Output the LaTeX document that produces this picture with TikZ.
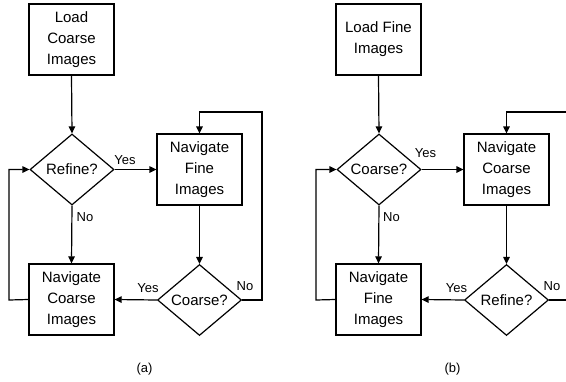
\documentclass[tikz,border=0pt]{standalone}
\usepackage{fontspec}
\setmainfont{Liberation Sans}
\usetikzlibrary{shapes.geometric,arrows.meta}
\begin{document}
\begin{tikzpicture}[x=1pt,y=-1pt,
  every node/.style={font=\fontsize{15}{21}\selectfont},
  procbox/.style={draw,line width=1.2pt,minimum width=85pt,minimum height=71pt,inner sep=0pt,align=center},
  decbox/.style={draw,line width=1.2pt,diamond,minimum width=84pt,minimum height=71pt,inner sep=0pt,aspect=1.18,align=center},
  lbl/.style={font=\fontsize{13}{15}\selectfont,inner sep=0pt},
  conn/.style={line width=1.2pt,-{Triangle[length=7pt,width=6.5pt]}},
  plain/.style={line width=1.2pt}]
\useasboundingbox (0,0) rectangle (566,381);
\fill[white] (0,0) rectangle (566,381);
% panel (a)
\node[procbox] (la) at (71.5,39.5) {Load\\Coarse\\Images};
\node[decbox] (ra) at (72,169.5) {Refine?};
\node[procbox] (nfa) at (199.5,169.5) {Navigate\\Fine\\Images};
\node[procbox] (nca) at (71.5,299.5) {Navigate\\Coarse\\Images};
\node[decbox] (ca) at (199.5,300) {Coarse?};
\coordinate (a1) at (262,300);
\coordinate (a2) at (262,112);
\coordinate (a3) at (9,300);
\draw[conn] (la.south) -- (ra.north);
\draw[conn] (ra.east) -- (nfa.west);
\draw[conn] (ra.south) -- (nca.north);
\draw[conn] (nfa.south) -- (ca.north);
\draw[conn] (ca.west) -- (nca.east);
\draw[conn] (ca.east) -- (a1) -- (a2) -| (nfa.north);
\draw[conn] (nca.west) -- (a3) |- (ra.west);
\node[lbl] (ya1) at (125,160) {Yes};
\node[lbl] (na1) at (85,217.5) {No};
\node[lbl] (ya2) at (148,288) {Yes};
\node[lbl] (na2) at (245,286.5) {No};
\node[lbl] (capa) at (144.5,369) {(a)};
% panel (b)
\node[procbox] (lb) at (378.5,39.5) {Load Fine\\Images};
\node[decbox] (cb) at (379,169.5) {Coarse?};
\node[procbox] (ncb) at (506.5,169.5) {Navigate\\Coarse\\Images};
\node[procbox] (nfb) at (378.5,299.5) {Navigate\\Fine\\Images};
\node[decbox] (rb) at (506.5,300) {Refine?};
\coordinate (b1) at (570,300);
\coordinate (b2) at (570,112);
\coordinate (b3) at (316,300);
\draw[conn] (lb.south) -- (cb.north);
\draw[conn] (cb.east) -- (ncb.west);
\draw[conn] (cb.south) -- (nfb.north);
\draw[conn] (ncb.south) -- (rb.north);
\draw[conn] (rb.west) -- (nfb.east);
\draw[conn] (rb.east) -- (b1) -- (b2) -| (ncb.north);
\draw[conn] (nfb.west) -- (b3) |- (cb.west);
\node[lbl] (yb1) at (425.5,153.5) {Yes};
\node[lbl] (nb1) at (391.5,217.5) {No};
\node[lbl] (yb2) at (456.5,288.5) {Yes};
\node[lbl] (nb2) at (552,286.5) {No};
\node[lbl] (capb) at (452.5,369) {(b)};
\end{tikzpicture}
\end{document}
